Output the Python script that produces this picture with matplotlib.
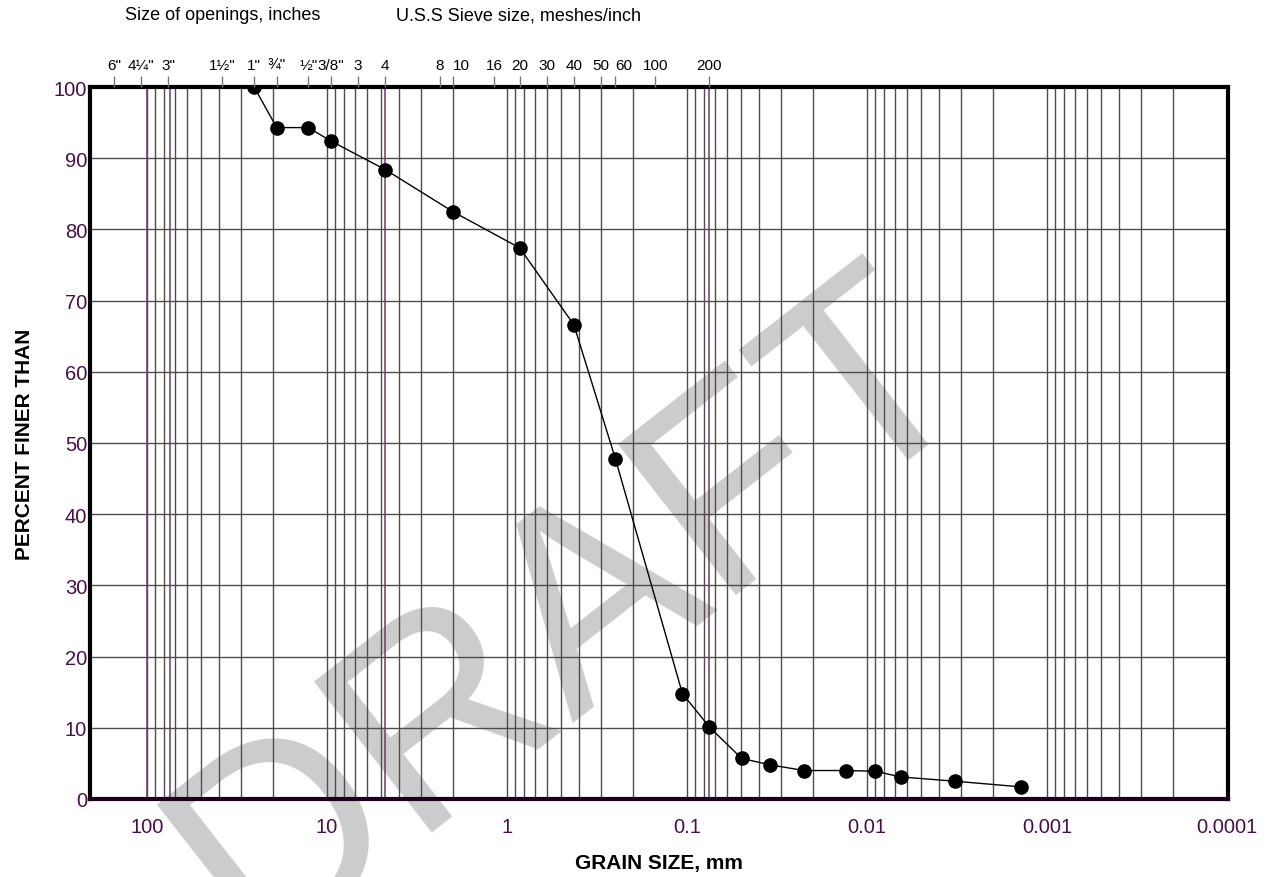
import numpy as np
import matplotlib
matplotlib.use("Agg")
import matplotlib.pyplot as plt
from matplotlib.ticker import NullFormatter, NullLocator

plt.rcParams['font.family'] = ['Liberation Sans', 'DejaVu Sans']

# grain size data (mm) and percent finer
grain_mm = [25.4, 19.05, 12.7, 9.5, 4.75, 2.0, 0.85, 0.425, 0.25, 0.106, 0.075,
            0.0497, 0.0346, 0.0224, 0.0130, 0.0090, 0.0065, 0.00325, 0.00139]
percent_finer = [100, 94.3, 94.3, 92.4, 88.4, 82.5, 77.4, 66.6, 47.8, 14.8, 10.1,
                 5.7, 4.8, 4.0, 4.0, 3.9, 3.1, 2.5, 1.7]

# top axis: sieve openings (mm) and their labels
sieve_mm = [152.4, 108.0, 76.2, 38.1, 25.4, 19.05, 12.7, 9.525, 6.73, 4.75,
            2.36, 2.0, 1.18, 0.85, 0.6, 0.425, 0.3, 0.25, 0.15, 0.075]
sieve_labels = ['6"', '4¼"', '3"', '1½"', '1"', '¾"', '½"', '3/8"', '3', '4',
                '8', '10', '16', '20', '30', '40', '50', '60', '100', '200']

# bottom axis labels
x_major = [100, 10, 1, 0.1, 0.01, 0.001, 0.0001]
x_major_labels = ['100', '10', '1', '0.1', '0.01', '0.001', '0.0001']
y_ticks = [0, 10, 20, 30, 40, 50, 60, 70, 80, 90, 100]

# boundary lines drawn in purple
boundary_mm = [100, 75, 4.75, 0.075]

purple = '#4a0f48'
W, H = 1272, 878
fig = plt.figure(figsize=(W / 100, H / 100), dpi=100)
ax = fig.add_axes([90 / W, 1 - 800 / H, (1228 - 90) / W, (800 - 88) / H])

ax.set_xscale('log')
xlim = (10 ** 2.317, 10 ** -4.006)
ax.set_xlim(xlim)
ax.set_ylim(0, 100)

# vertical log grid
grid_x = []
for e in range(2, -5, -1):
    for m in range(1, 10):
        v = m * 10.0 ** e
        if 1e-4 <= v <= 100:
            grid_x.append(v)
for v in grid_x:
    ax.axvline(v, color='#4d4d4d', lw=1.0, zorder=1)
for v in boundary_mm:
    ax.axvline(v, color='#6e3a6c', lw=1.1, zorder=1.1)
for v in y_ticks[1:-1]:
    ax.axhline(v, color='#4d4d4d', lw=1.0, zorder=1)

# watermark
ax.text(0.45, 0.30, 'DRAFT', transform=fig.transFigure, fontsize=200,
        color='#cccccc', rotation=38, ha='center', va='center',
        zorder=0.5, clip_on=False)

ax.plot(grain_mm, percent_finer, '-', color='black', lw=1.0, zorder=3)
ax.plot(grain_mm, percent_finer, 'o', color='black', ms=9.5, zorder=4)

ax.xaxis.set_minor_locator(NullLocator())
ax.xaxis.set_minor_formatter(NullFormatter())
ax.set_xticks(x_major)
ax.set_xticklabels(x_major_labels)
ax.set_yticks(y_ticks)
ax.tick_params(axis='x', length=0, pad=13, labelsize=14.5, labelcolor=purple)
ax.tick_params(axis='y', length=0, pad=2, labelsize=14.5, labelcolor=purple)

for side in ['left', 'top', 'right', 'bottom']:
    ax.spines[side].set_linewidth(3.0)
    ax.spines[side].set_color('black')
    ax.spines[side].set_zorder(5)
ax.spines['bottom'].set_color('#1a001a')

ax.set_xlabel('GRAIN SIZE, mm', fontsize=15, fontweight='bold', labelpad=12)
ax.set_ylabel('PERCENT FINER THAN', fontsize=15, fontweight='bold', labelpad=14)

# top sieve axis
ax2 = ax.twiny()
ax2.set_xscale('log')
ax2.set_xlim(xlim)
ax2.xaxis.set_minor_locator(NullLocator())
ax2.xaxis.set_minor_formatter(NullFormatter())
ax2.set_xticks(sieve_mm)
ax2.set_xticklabels(sieve_labels)
ax2.tick_params(axis='x', direction='out', length=8, width=1, color='#777777',
                pad=3, labelsize=11)
for lbl in ax2.get_xticklabels():
    if lbl.get_text() in ('10', '60'):
        lbl.set_horizontalalignment('left')
for side in ax2.spines:
    ax2.spines[side].set_visible(False)

fig.text(125 / W, 1 - 16 / H, 'Size of openings, inches', fontsize=13,
         ha='left', va='center')
fig.text(396 / W, 1 - 16 / H, 'U.S.S Sieve size, meshes/inch', fontsize=13,
         ha='left', va='center')

fig.savefig('out.png', dpi=100)
